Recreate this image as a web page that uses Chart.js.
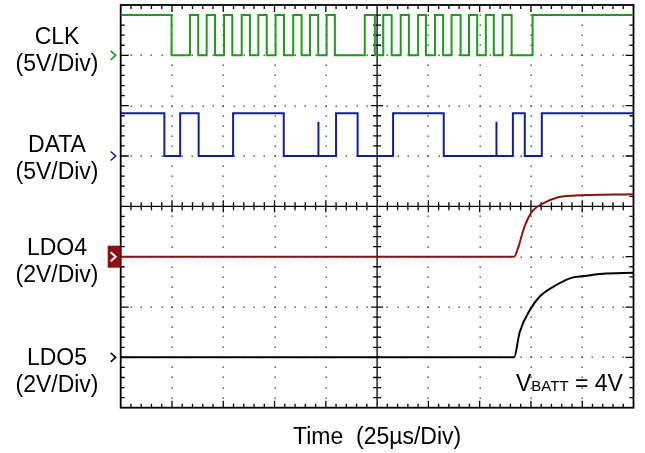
<!DOCTYPE html>
<html>
<head>
<meta charset="utf-8">
<script src="https://cdn.jsdelivr.net/npm/chart.js@4.4.1/dist/chart.umd.min.js"></script>
<style>
  html, body { margin: 0; padding: 0; background: #fff; }
  #wrap { width: 645px; height: 453px; }
</style>
</head>
<body>
<div id="wrap"><canvas id="scope" width="645" height="453"></canvas></div>
<script>
// time axis in microseconds (10 div x 25us), vertical axis in screen divisions (0 = bottom, 8 = top)
var timeMax = 250;
var divMax = 8;

// CLK: starts high, toggles at each edge (us)
var clkEdges = [24.8, 33.8, 37.8, 41.9, 46.0, 50.4, 54.4, 59.0, 63.0, 67.1, 71.2, 75.5, 79.6,
  84.1, 88.2, 92.3, 96.3, 100.4, 104.4, 119.0, 123.9, 128.0, 132.1, 136.5, 140.5, 145.0,
  148.8, 153.2, 157.2, 161.3, 165.7, 169.8, 173.8, 178.0, 181.9, 186.2, 190.6, 200.8];
var clkLevels = [7.0, 7.8];

// DATA: starts high, toggles at each edge (us), plus two short glitches
var dataEdges = [21.3, 29.0, 38.0, 54.8, 79.5, 105.0, 115.5, 132.8, 157.5, 191.2, 197.0, 205.3];
var dataLevels = [5.0, 5.85];
var dataGlitches = [96.2, 183.0];
var dataGlitchTop = 5.68;

// LDO4 / LDO5 power-up (us, div)
var ldo4Time = [0, 191.8, 193.8, 196.3, 198.8, 201.3, 206.0, 212.5, 220.0, 250];
var ldo4Div  = [3.0, 3.0, 3.18, 3.53, 3.78, 3.93, 4.06, 4.17, 4.21, 4.24];
var ldo5Time = [0, 191.8, 194.5, 199.5, 204.3, 212.5, 219.0, 227.0, 235.0, 250];
var ldo5Div  = [1.0, 1.0, 1.5, 1.94, 2.21, 2.44, 2.57, 2.62, 2.66, 2.68];

var channelNames  = ["CLK", "DATA", "LDO4", "LDO5"];
var channelScales = ["(5V/Div)", "(5V/Div)", "(2V/Div)", "(2V/Div)"];
var channelGround = [7, 5, 3, 1];
var channelColors = ["#1e9a1e", "#13208f", "#8c1010", "#000000"];

function stepPoints(edges, levels) {
  var lvl = 1;
  var pts = [{x: 0, y: levels[lvl]}];
  edges.forEach(function (t) {
    pts.push({x: t, y: levels[lvl]});
    lvl = 1 - lvl;
    pts.push({x: t, y: levels[lvl]});
  });
  pts.push({x: timeMax, y: levels[lvl]});
  return pts;
}

function addGlitches(pts, times, base, top) {
  times.forEach(function (t) {
    var i = 0;
    while (i < pts.length && pts[i].x <= t) i++;
    pts.splice(i, 0, {x: t, y: base}, {x: t, y: top}, {x: t + 0.4, y: base});
  });
  return pts;
}

function zipPoints(xs, ys) {
  return xs.map(function (x, i) { return {x: x, y: ys[i]}; });
}

var clkData = stepPoints(clkEdges, clkLevels);
var dataData = addGlitches(stepPoints(dataEdges, dataLevels), dataGlitches, dataLevels[0], dataGlitchTop);

var FONT = "'Liberation Sans', Arial, sans-serif";

// oscilloscope graticule: border + center cross with ticks, dotted major divisions
var graticule = {
  id: "graticule",
  beforeDatasetsDraw: function (chart) {
    var ctx = chart.ctx, a = chart.chartArea;
    var xs = chart.scales.x, ys = chart.scales.y;
    var nx = 10, ny = divMax, sub = 5;
    var dx = (a.right - a.left) / nx, dy = (a.bottom - a.top) / ny;
    var cx = xs.getPixelForValue(timeMax / 2), cy = ys.getPixelForValue(divMax / 2);
    var i, j, px, py;
    ctx.save();
    // dotted grid
    ctx.fillStyle = "#444";
    for (i = 1; i < nx; i++) {
      if (i === nx / 2) continue;
      px = a.left + i * dx;
      for (j = 1; j < ny * sub; j++) {
        py = a.top + j * dy / sub;
        ctx.fillRect(Math.round(px) - 0.5, Math.round(py) - 0.5, 1.4, 1.4);
      }
    }
    for (j = 1; j < ny; j++) {
      if (j === ny / 2) continue;
      py = a.top + j * dy;
      for (i = 1; i < nx * sub; i++) {
        px = a.left + i * dx / sub;
        ctx.fillRect(Math.round(px) - 0.5, Math.round(py) - 0.5, 1.4, 1.4);
      }
    }
    ctx.strokeStyle = "#000";
    ctx.lineWidth = 1.3;
    ctx.beginPath();
    // center cross
    ctx.moveTo(a.left, cy); ctx.lineTo(a.right, cy);
    ctx.moveTo(cx, a.top); ctx.lineTo(cx, a.bottom);
    // ticks along horizontal lines
    for (i = 1; i < nx * sub; i++) {
      px = a.left + i * dx / sub;
      var major = i % sub === 0;
      var tl = major ? 6 : 4;
      ctx.moveTo(px, cy - tl); ctx.lineTo(px, cy + tl);
      ctx.moveTo(px, a.top); ctx.lineTo(px, a.top + (major ? 7 : 4));
      ctx.moveTo(px, a.bottom); ctx.lineTo(px, a.bottom - (major ? 7 : 4));
    }
    for (j = 1; j < ny * sub; j++) {
      py = a.top + j * dy / sub;
      var majorY = j % sub === 0;
      var tly = majorY ? 6 : 4;
      ctx.moveTo(cx - tly, py); ctx.lineTo(cx + tly, py);
      ctx.moveTo(a.left, py); ctx.lineTo(a.left + (majorY ? 8 : 4), py);
      ctx.moveTo(a.right, py); ctx.lineTo(a.right - (majorY ? 8 : 4), py);
    }
    ctx.stroke();
    ctx.lineWidth = 1.8;
    ctx.strokeRect(a.left, a.top, a.right - a.left, a.bottom - a.top);
    ctx.restore();
  },
  afterDraw: function (chart) {
    var ctx = chart.ctx, a = chart.chartArea;
    var ys = chart.scales.y;
    var labelX = 57;
    var titleBase = [44, 152, 255, 365];
    ctx.save();
    ctx.fillStyle = "#000";
    ctx.textAlign = "center";
    ctx.textBaseline = "alphabetic";
    ctx.font = "23px " + FONT;
    for (var k = 0; k < channelNames.length; k++) {
      ctx.fillText(channelNames[k], labelX, titleBase[k]);
      ctx.fillText(channelScales[k], labelX, titleBase[k] + 27);
    }
    // channel ground markers
    for (k = 0; k < channelGround.length; k++) {
      var gy = ys.getPixelForValue(channelGround[k]);
      ctx.lineWidth = 1.6;
      if (k === 2) {
        ctx.fillStyle = channelColors[k];
        ctx.fillRect(a.left - 13, gy - 11, 13, 22);
        ctx.strokeStyle = "#fff";
        ctx.lineWidth = 2;
      } else {
        ctx.strokeStyle = channelColors[k];
      }
      ctx.beginPath();
      ctx.moveTo(a.left - 10, gy - 4.5);
      ctx.lineTo(a.left - 5, gy);
      ctx.lineTo(a.left - 10, gy + 4.5);
      ctx.stroke();
    }
    // axis caption
    ctx.fillStyle = "#000";
    ctx.textAlign = "center";
    ctx.font = "23px " + FONT;
    ctx.fillText("Time  (25\u00b5s/Div)", (a.left + a.right) / 2, 444);
    // V_BATT note
    ctx.textAlign = "left";
    var x0 = 516, base = 391;
    ctx.fillText("V", x0, base);
    x0 += ctx.measureText("V").width;
    ctx.font = "15px " + FONT;
    ctx.fillText("BATT", x0, base);
    x0 += ctx.measureText("BATT").width;
    ctx.font = "23px " + FONT;
    ctx.fillText(" = 4V", x0, base);
    ctx.restore();
  }
};

new Chart(document.getElementById("scope"), {
  type: "line",
  data: {
    datasets: [
      { label: channelNames[0], data: clkData, borderColor: channelColors[0], borderWidth: 2 },
      { label: channelNames[1], data: dataData, borderColor: channelColors[1], borderWidth: 2 },
      { label: channelNames[2], data: zipPoints(ldo4Time, ldo4Div), borderColor: channelColors[2],
        borderWidth: 2, cubicInterpolationMode: "monotone" },
      { label: channelNames[3], data: zipPoints(ldo5Time, ldo5Div), borderColor: channelColors[3],
        borderWidth: 2, cubicInterpolationMode: "monotone" }
    ]
  },
  options: {
    responsive: false,
    animation: false,
    devicePixelRatio: 1,
    layout: { padding: { left: 120.7, right: 11.5, top: 5, bottom: 45.3 } },
    elements: { point: { radius: 0 }, line: { tension: 0 } },
    plugins: { legend: { display: false }, tooltip: { enabled: false } },
    scales: {
      x: { type: "linear", min: 0, max: timeMax, display: false },
      y: { type: "linear", min: 0, max: divMax, display: false }
    }
  },
  plugins: [graticule]
});
</script>
</body>
</html>
